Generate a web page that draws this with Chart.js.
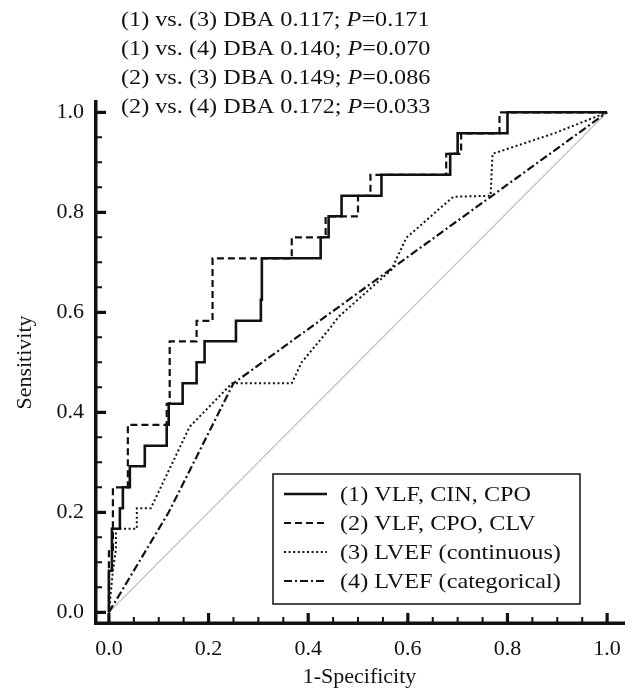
<!DOCTYPE html>
<html><head><meta charset="utf-8">
<script src="https://cdn.jsdelivr.net/npm/chart.js@4/dist/chart.umd.min.js"></script>
<style>html,body{margin:0;padding:0;background:#fff}#wrap{width:632px;height:693px;position:relative}</style>
</head><body><div id="wrap"><canvas id="c"></canvas></div>
<script>
const seriesLabels = ['(1) VLF, CIN, CPO', '(2) VLF, CPO, CLV', '(3) LVEF (continuous)', '(4) LVEF (categorical)'];

const roc1Fpr = [0, 0, 0.006, 0.006, 0.022, 0.022, 0.028, 0.028, 0.042, 0.042, 0.072, 0.072, 0.116, 0.116, 0.12, 0.12, 0.148, 0.148, 0.176, 0.176, 0.192, 0.192, 0.255, 0.255, 0.305, 0.305, 0.307, 0.307, 0.425, 0.425, 0.441, 0.441, 0.467, 0.467, 0.547, 0.547, 0.685, 0.685, 0.70, 0.70, 0.80, 0.80, 1.0];
const roc1Tpr = [0, 0.083, 0.083, 0.167, 0.167, 0.208, 0.208, 0.25, 0.25, 0.292, 0.292, 0.333, 0.333, 0.375, 0.375, 0.417, 0.417, 0.458, 0.458, 0.5, 0.5, 0.542, 0.542, 0.583, 0.583, 0.625, 0.625, 0.708, 0.708, 0.75, 0.75, 0.792, 0.792, 0.833, 0.833, 0.875, 0.875, 0.917, 0.917, 0.958, 0.958, 1.0, 1.0];

const roc2Fpr = [0, 0, 0.008, 0.008, 0.038, 0.038, 0.116, 0.116, 0.122, 0.122, 0.176, 0.176, 0.208, 0.208, 0.367, 0.367, 0.435, 0.435, 0.50, 0.50, 0.525, 0.525, 0.677, 0.677, 0.707, 0.707, 0.784, 0.784, 1.0];
const roc2Tpr = [0, 0.125, 0.125, 0.25, 0.25, 0.375, 0.375, 0.417, 0.417, 0.542, 0.542, 0.583, 0.583, 0.708, 0.708, 0.75, 0.75, 0.792, 0.792, 0.833, 0.833, 0.875, 0.875, 0.917, 0.917, 0.958, 0.958, 1.0, 1.0];

const roc3Fpr = [0, 0.008, 0.014, 0.014, 0.056, 0.056, 0.084, 0.162, 0.247, 0.367, 0.387, 0.441, 0.461, 0.567, 0.597, 0.691, 0.766, 0.77, 0.894, 1.0];
const roc3Tpr = [0, 0.083, 0.125, 0.167, 0.167, 0.208, 0.208, 0.371, 0.458, 0.458, 0.5, 0.565, 0.591, 0.685, 0.749, 0.831, 0.833, 0.917, 0.958, 1.0];

const roc4Fpr = [0, 0.12, 0.25, 1.0];
const roc4Tpr = [0, 0.2, 0.458, 1.0];

const refFpr = [0, 1];
const refTpr = [0, 1];

const majorTicks = [0, 0.2, 0.4, 0.6, 0.8, 1.0];
const minorTicks = [0.05, 0.1, 0.15, 0.25, 0.3, 0.35, 0.45, 0.5, 0.55, 0.65, 0.7, 0.75, 0.85, 0.9, 0.95];

const xTitle = '1-Specificity';
const yTitle = 'Sensitivity';

const comparisonLines = [
  [['(1) vs. (3) DBA 0.117; ', false], ['P', true], ['=0.171', false]],
  [['(1) vs. (4) DBA 0.140; ', false], ['P', true], ['=0.070', false]],
  [['(2) vs. (3) DBA 0.149; ', false], ['P', true], ['=0.086', false]],
  [['(2) vs. (4) DBA 0.172; ', false], ['P', true], ['=0.033', false]]
];

const FONT = '"Liberation Serif", "Times New Roman", serif';
const pts = (xs, ys) => xs.map((v, i) => ({x: v, y: ys[i]}));

const lineStyles = [
  {borderWidth: 2.6, borderDash: []},
  {borderWidth: 2.2, borderDash: [7, 4]},
  {borderWidth: 2.0, borderDash: [2, 2.6]},
  {borderWidth: 2.2, borderDash: [8, 3, 2, 3]}
];
const rocX = [roc1Fpr, roc2Fpr, roc3Fpr, roc4Fpr];
const rocY = [roc1Tpr, roc2Tpr, roc3Tpr, roc4Tpr];

const datasets = seriesLabels.map((lab, i) => ({
  label: lab,
  data: pts(rocX[i], rocY[i]),
  borderColor: '#111',
  borderWidth: lineStyles[i].borderWidth,
  borderDash: lineStyles[i].borderDash,
  showLine: true, pointRadius: 0, tension: 0, fill: false,
  borderCapStyle: 'butt', borderJoinStyle: 'miter'
}));
datasets.push({
  label: 'reference', data: pts(refFpr, refTpr),
  borderColor: '#c4c4c4', borderWidth: 1.3, showLine: true, pointRadius: 0
});

function drawParts(ctx, parts, x, y, sx) {
  ctx.save();
  ctx.translate(x, y);
  ctx.scale(sx, 1);
  let cx = 0;
  for (const [txt, it] of parts) {
    ctx.font = (it ? 'italic ' : '') + '22px ' + FONT;
    ctx.fillText(txt, cx, 0);
    cx += ctx.measureText(txt).width;
  }
  ctx.restore();
}

const decor = {
  id: 'decor',
  afterDatasetsDraw(chart) {
    const {ctx, chartArea: a, scales: {x, y}} = chart;
    ctx.save();
    ctx.strokeStyle = '#111';
    ctx.fillStyle = '#111';
    ctx.lineCap = 'butt';
    ctx.lineWidth = 3.5;
    ctx.beginPath();
    ctx.moveTo(a.left + 1.75, a.top);
    ctx.lineTo(a.left + 1.75, a.bottom);
    ctx.moveTo(a.left, a.bottom - 1.75);
    ctx.lineTo(a.right, a.bottom - 1.75);
    ctx.stroke();
    ctx.lineWidth = 3.2;
    ctx.beginPath();
    for (const v of majorTicks) {
      const px = x.getPixelForValue(v), py = y.getPixelForValue(v);
      ctx.moveTo(px, a.bottom); ctx.lineTo(px, a.bottom - 12);
      ctx.moveTo(a.left, py); ctx.lineTo(a.left + 12, py);
    }
    ctx.stroke();
    ctx.lineWidth = 2;
    ctx.beginPath();
    for (const v of minorTicks) {
      const px = x.getPixelForValue(v), py = y.getPixelForValue(v);
      ctx.moveTo(px, a.bottom); ctx.lineTo(px, a.bottom - 8);
      ctx.moveTo(a.left, py); ctx.lineTo(a.left + 8, py);
    }
    ctx.stroke();

    const bx = 273, by = 474, bw = 307, bh = 130;
    ctx.fillStyle = '#fff';
    ctx.fillRect(bx, by, bw, bh);
    ctx.lineWidth = 1.5;
    ctx.strokeRect(bx, by, bw, bh);
    ctx.fillStyle = '#111';
    ctx.textBaseline = 'alphabetic';
    chart.data.datasets.slice(0, 4).forEach((ds, i) => {
      const cy = 494 + i * 29;
      ctx.lineWidth = ds.borderWidth;
      ctx.setLineDash(ds.borderDash || []);
      ctx.beginPath();
      ctx.moveTo(284, cy); ctx.lineTo(327, cy);
      ctx.stroke();
      ctx.setLineDash([]);
      drawParts(ctx, [[ds.label, false]], 340, cy + 7, 1.1);
    });

    comparisonLines.forEach((parts, i) => {
      drawParts(ctx, parts, 121, 26 + i * 29, 1.1);
    });
    ctx.restore();
  }
};

new Chart(document.getElementById('c'), {
  type: 'scatter',
  data: {datasets},
  options: {
    responsive: true, maintainAspectRatio: false, animation: false,
    layout: {padding: {top: 100, right: 4, left: 0, bottom: 0}},
    plugins: {legend: {display: false}, tooltip: {enabled: false}},
    scales: {
      x: {
        type: 'linear', min: -0.02994, max: 1.03593,
        grid: {display: false, drawTicks: false},
        border: {display: false},
        afterBuildTicks: s => { s.ticks = majorTicks.map(v => ({value: v})); },
        afterFit: s => { s.height = 68; },
        ticks: {color: '#111', padding: 11, font: {family: FONT, size: 22}, callback: v => Number(v).toFixed(1)},
        title: {display: true, text: xTitle, color: '#111', font: {family: FONT, size: 22}, padding: {bottom: 3, top: 0}}
      },
      y: {
        type: 'linear', min: -0.0254, max: 1.0246,
        grid: {display: false, drawTicks: false},
        border: {display: false},
        afterBuildTicks: s => { s.ticks = majorTicks.map(v => ({value: v})); },
        afterFit: s => { s.width = 94; },
        ticks: {color: '#111', padding: 10, font: {family: FONT, size: 22}, callback: v => Number(v).toFixed(1)},
        title: {display: true, text: yTitle, color: '#111', font: {family: FONT, size: 22}, padding: {top: 12, bottom: 0}}
      }
    }
  },
  plugins: [decor]
});
</script></body></html>
